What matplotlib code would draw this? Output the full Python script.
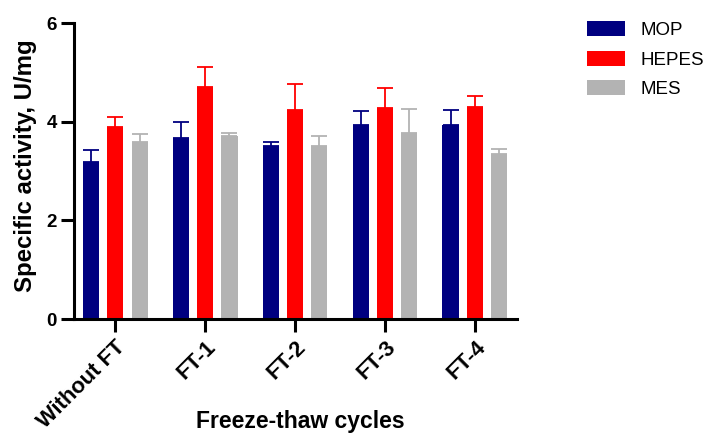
import matplotlib
matplotlib.use("Agg")
import matplotlib.pyplot as plt
import numpy as np

# ── data ──────────────────────────────────────────────────────────────────────
cycles = ["Without FT", "FT-1", "FT-2", "FT-3", "FT-4"]
buffers = ["MOP", "HEPES", "MES"]

mop_mean = [3.19, 3.67, 3.50, 3.93, 3.93]
mop_sd = [0.24, 0.32, 0.09, 0.28, 0.30]
hepes_mean = [3.90, 4.71, 4.24, 4.28, 4.30]
hepes_sd = [0.19, 0.39, 0.52, 0.40, 0.23]
mes_mean = [3.59, 3.71, 3.50, 3.78, 3.35]
mes_sd = [0.15, 0.07, 0.20, 0.47, 0.09]

colors = ["#000080", "#ff0000", "#b3b3b3"]

# ── plot ──────────────────────────────────────────────────────────────────────
plt.rcParams["font.family"] = ["Liberation Sans", "DejaVu Sans"]

fig = plt.figure(figsize=(7.06, 4.34), dpi=100)
ax = fig.add_axes([74 / 706, 1 - 319 / 434, (517 - 74) / 706, (319 - 23) / 434])

x = np.arange(len(cycles))
width = 0.178
offsets = [-0.272, 0.0, 0.272]
means = [mop_mean, hepes_mean, mes_mean]
sds = [mop_sd, hepes_sd, mes_sd]

for off, m, s, c, name in zip(offsets, means, sds, colors, buffers):
    ax.bar(x + off, m, width, color=c, label=name, zorder=2)
    ax.errorbar(x + off, m, yerr=[np.zeros(len(s)), s], fmt="none",
                ecolor=c, elinewidth=1.3, capsize=6, capthick=1.3, zorder=1)

ax.set_xlim(-0.456, 4.467)
ax.set_ylim(0, 6)
ax.set_yticks([0, 2, 4, 6])
ax.set_xticks(x)
ax.set_xticklabels(cycles, rotation=45, ha="right", rotation_mode="anchor",
                   fontsize=15.8, fontweight="bold")
for lbl in ax.get_yticklabels():
    lbl.set_fontweight("bold")
    lbl.set_fontsize(13.5)

ax.spines[["top", "right"]].set_visible(False)
ax.spines[["left", "bottom"]].set_linewidth(2.2)
ax.tick_params(axis="both", width=2.2, length=9.5, pad=3)

ax.set_ylabel("Specific activity, U/mg", fontsize=17.3, fontweight="bold")
ax.yaxis.set_label_coords((37 - 74) / 443, (319 - 166) / 296)
ax.set_xlabel("Freeze-thaw cycles", fontsize=16.5, fontweight="bold")
ax.xaxis.set_label_coords((300 - 74) / 443, (319 - 410) / 296)

fig.legend(loc="upper left", bbox_to_anchor=(587 / 706, 1 - 21 / 434),
           frameon=False, fontsize=13.5, handlelength=2.0, handleheight=0.85,
           labelspacing=0.62, handletextpad=0.85, borderpad=0, borderaxespad=0)

fig.savefig("out.png", dpi=100)
